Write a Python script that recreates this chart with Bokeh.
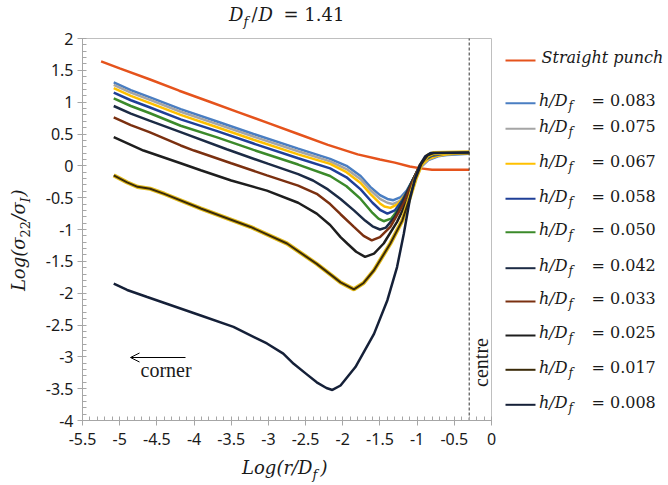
import math
from bokeh.plotting import figure
from bokeh.models import (Range1d, SingleIntervalTicker, CustomJSTickFormatter, LinearAxis,
                          Arrow, OpenHead)
from bokeh.core.properties import value
from bokeh.embed import file_html
from bokeh.resources import INLINE

# ---------------- data ----------------
series_labels = ["Straight punch", "0.083", "0.075", "0.067", "0.058", "0.050",
                 "0.042", "0.033", "0.025", "0.017", "0.008"]

straight_x = [-5.25, -5.0, -4.6, -4.2, -3.8, -3.4, -3.0, -2.6, -2.2, -1.8, -1.5, -1.3, -1.1, -0.95, -0.8, -0.6, -0.3]
straight_y = [1.64, 1.53, 1.36, 1.18, 1.01, 0.84, 0.67, 0.5, 0.33, 0.18, 0.1, 0.05, -0.01, -0.04, -0.06, -0.06, -0.06]

h083_x = [-5.08, -4.85, -4.6, -4.18, -3.7, -3.2, -2.6, -2.17, -1.95, -1.76, -1.63, -1.5, -1.4, -1.32, -1.22, -1.14, -1.05, -0.96, -0.85, -0.72, -0.6, -0.3]
h083_y = [1.31, 1.19, 1.08, 0.89, 0.70, 0.50, 0.27, 0.11, 0.0, -0.16, -0.33, -0.46, -0.52, -0.54, -0.49, -0.39, -0.2, -0.03, 0.09, 0.15, 0.17, 0.19]

h075_x = [-5.08, -4.85, -4.6, -4.18, -3.7, -3.2, -2.6, -2.17, -1.95, -1.76, -1.63, -1.5, -1.4, -1.33, -1.23, -1.14, -1.05, -0.96, -0.85, -0.72, -0.6, -0.3]
h075_y = [1.27, 1.15, 1.04, 0.85, 0.66, 0.46, 0.23, 0.07, -0.05, -0.21, -0.38, -0.52, -0.58, -0.60, -0.55, -0.42, -0.21, -0.02, 0.10, 0.16, 0.18, 0.20]

h067_x = [-5.08, -4.85, -4.6, -4.18, -3.7, -3.2, -2.6, -2.17, -1.95, -1.76, -1.63, -1.5, -1.44, -1.36, -1.26, -1.15, -1.05, -0.96, -0.85, -0.72, -0.6, -0.3]
h067_y = [1.22, 1.10, 0.99, 0.80, 0.61, 0.41, 0.18, 0.03, -0.10, -0.27, -0.44, -0.59, -0.64, -0.66, -0.60, -0.44, -0.21, -0.01, 0.11, 0.16, 0.18, 0.20]

h058_x = [-5.08, -4.85, -4.6, -4.18, -3.7, -3.2, -2.6, -2.17, -1.95, -1.76, -1.6, -1.5, -1.4, -1.3, -1.2, -1.1, -1.0, -0.9, -0.8, -0.65, -0.3]
h058_y = [1.15, 1.03, 0.92, 0.73, 0.55, 0.35, 0.12, -0.04, -0.18, -0.37, -0.58, -0.69, -0.75, -0.70, -0.54, -0.32, -0.08, 0.09, 0.16, 0.19, 0.20]

h050_x = [-5.08, -4.85, -4.6, -4.18, -3.7, -3.2, -2.6, -2.17, -1.95, -1.76, -1.6, -1.52, -1.45, -1.35, -1.25, -1.15, -1.05, -0.97, -0.88, -0.78, -0.65, -0.3]
h050_y = [1.06, 0.94, 0.83, 0.63, 0.45, 0.25, 0.02, -0.16, -0.32, -0.52, -0.74, -0.83, -0.87, -0.83, -0.68, -0.45, -0.2, -0.02, 0.12, 0.18, 0.20, 0.20]

h042_x = [-5.08, -4.85, -4.6, -4.18, -3.56, -3.0, -2.6, -2.4, -2.2, -2.03, -1.85, -1.7, -1.6, -1.5, -1.42, -1.3, -1.17, -1.05, -0.96, -0.87, -0.76, -0.3]
h042_y = [0.94, 0.82, 0.71, 0.53, 0.26, 0.03, -0.13, -0.23, -0.37, -0.52, -0.70, -0.86, -0.95, -1.0, -0.97, -0.8, -0.5, -0.2, 0.0, 0.14, 0.19, 0.20]

h033_x = [-5.08, -4.85, -4.6, -4.18, -4.0, -3.5, -3.02, -2.6, -2.35, -2.17, -2.03, -1.85, -1.72, -1.61, -1.5, -1.36, -1.18, -1.06, -0.97, -0.88, -0.78, -0.3]
h033_y = [0.76, 0.64, 0.53, 0.32, 0.24, 0.04, -0.15, -0.31, -0.44, -0.6, -0.76, -0.96, -1.1, -1.17, -1.12, -0.96, -0.59, -0.25, 0.0, 0.14, 0.19, 0.20]

h025_x = [-5.08, -4.85, -4.68, -4.18, -3.91, -3.5, -3.02, -2.6, -2.35, -2.17, -2.03, -1.94, -1.82, -1.7, -1.58, -1.45, -1.27, -1.13, -1.03, -0.95, -0.87, -0.78, -0.3]
h025_y = [0.45, 0.33, 0.24, 0.04, -0.07, -0.23, -0.39, -0.58, -0.75, -0.93, -1.12, -1.22, -1.35, -1.43, -1.38, -1.22, -0.88, -0.54, -0.2, 0.02, 0.15, 0.20, 0.21]

h017_x = [-5.08, -4.9, -4.76, -4.59, -4.4, -3.91, -3.24, -2.75, -2.35, -2.15, -2.03, -1.85, -1.72, -1.58, -1.36, -1.2, -1.11, -1.02, -0.94, -0.86, -0.78, -0.3]
h017_y = [-0.15, -0.26, -0.33, -0.36, -0.44, -0.67, -0.96, -1.22, -1.54, -1.72, -1.83, -1.94, -1.84, -1.64, -1.22, -0.86, -0.54, -0.2, 0.03, 0.16, 0.20, 0.21]

h008_x = [-5.08, -4.9, -4.63, -3.91, -3.47, -3.02, -2.8, -2.66, -2.5, -2.35, -2.22, -2.14, -2.03, -1.83, -1.58, -1.4, -1.27, -1.18, -1.1, -1.03, -0.96, -0.89, -0.82, -0.3]
h008_y = [-1.85, -1.95, -2.06, -2.35, -2.53, -2.79, -2.95, -3.11, -3.26, -3.40, -3.49, -3.52, -3.45, -3.16, -2.64, -2.11, -1.59, -1.07, -0.54, -0.2, 0.02, 0.15, 0.20, 0.21]

tick_interval = 0.5
centre_x = -0.3
X0, X1, Y0, Y1 = -5.5, 0.0, -4.0, 2.0     # axis extents

# ---------------- styles ----------------
colors = ["#E5531C", "#4A7EC2", "#A5A5A5", "#FFC000", "#1F3F97", "#3B8A2A",
          "#1C2B45", "#7B3010", "#1E1E1E", "#3A2A08", "#152038"]
halo = {9: "#E2BB1E"}

xs = [straight_x, h083_x, h075_x, h067_x, h058_x, h050_x, h042_x, h033_x, h025_x, h017_x, h008_x]
ys = [straight_y, h083_y, h075_y, h067_y, h058_y, h050_y, h042_y, h033_y, h025_y, h017_y, h008_y]

SERIF = "DejaVu Serif"
TIMES = "Liberation Serif"
SANS = "Noto Sans"
AX = "#A6A6A6"
TXT = "#1a1a1a"

W, H = 668, 485
FL, FR, FT, FB = 82, 491, 38, 420           # where the axes box sits on the page (px)
BASE_FIX = 0.42                              # baseline correction (fraction of font size)


def xd(px):
    return X0 + (px - FL) * (X1 - X0) / (FR - FL)


def yd(py):
    return Y1 - (py - FT) * (Y1 - Y0) / (FB - FT)


p = figure(width=W, height=H, x_range=Range1d(xd(0), xd(W)), y_range=Range1d(yd(H), yd(0)),
           output_backend="svg", toolbar_location=None, title=None, min_border=0,
           x_axis_type=None, y_axis_type=None)
p.background_fill_color = "white"
p.border_fill_color = "white"
p.outline_line_color = None
p.grid.visible = False

fmt = CustomJSTickFormatter(code="return String(Math.round(tick*10)/10);")
xaxis = LinearAxis(fixed_location=Y0, bounds=(X0, X1))
yaxis = LinearAxis(fixed_location=X0, bounds=(Y0, Y1))
for ax in (xaxis, yaxis):
    ax.ticker = SingleIntervalTicker(interval=tick_interval, num_minor_ticks=5)
    ax.formatter = fmt
    ax.axis_line_color = AX
    ax.major_tick_line_color = AX
    ax.minor_tick_line_color = AX
    ax.major_tick_in = 2
    ax.major_tick_out = 5
    ax.minor_tick_in = 4
    ax.minor_tick_out = 0
    ax.major_label_text_font = SANS
    ax.major_label_text_font_size = "16px"
    ax.major_label_text_color = TXT
yaxis.major_label_standoff = 4
xaxis.major_label_standoff = 7
p.add_layout(xaxis, "below")
p.add_layout(yaxis, "left")

# box edges (top and right) of the axes area
p.segment(x0=[X0, X1], y0=[Y1, Y0], x1=[X1, X1], y1=[Y1, Y1], line_color="#BFBFBF", line_width=1)

for i in range(len(xs)):
    if i in halo:
        p.line(xs[i], ys[i], line_color=halo[i], line_width=4.2)
    p.line(xs[i], ys[i], line_color=colors[i], line_width=2.5 if i not in halo else 2.0)

p.line([centre_x, centre_x], [Y0, Y1], line_color="#333333", line_width=1, line_dash="3 2")

A = math.pi / 2


def txt(px, py, s, size, italic=True, align="left", angle=0.0, font=SERIF):
    """Place a text with its alphabetic baseline at page pixel (px, py)."""
    fix = BASE_FIX * size
    if angle:
        x, y = xd(px - fix), yd(py)
    else:
        x, y = xd(px), yd(py - fix)
    p.text(x=[x], y=[y], text=[s], text_font=value(font), text_font_size=f"{size}px",
           text_font_style="italic" if italic else "normal", text_align=align,
           text_baseline="alphabetic", angle=angle, text_color=TXT)


p.add_layout(Arrow(end=OpenHead(size=9, line_width=1, line_color="black"),
                   x_start=xd(185), y_start=yd(357), x_end=xd(130), y_end=yd(357),
                   line_width=1, line_color="black"))
txt(140, 378, "corner", 20, italic=False, font=TIMES)
txt(489, 362, "centre", 20, italic=False, font=TIMES, align="center", angle=A)

# title  D_f /D = 1.41
txt(243, 22, "D", 18, align="right")
txt(243, 26, "f", 13)
txt(251, 22, "/", 18, italic=False)
txt(258, 22, "D", 18)
txt(283, 22, "= 1.41", 18, italic=False)

# x label  Log(r/D_f)
txt(312, 475, "Log(r/D", 18, align="right")
txt(312, 479, "f", 13)
txt(320, 475, ")", 18)

# y label  Log(σ22/σI)
txt(26, 237, "Log(σ", 18, align="right", angle=A)
txt(30, 237, "22", 13, italic=False, angle=A)
txt(26, 220, "/σ", 18, angle=A)
txt(30, 202, "I", 13, angle=A)
txt(26, 196, ")", 18, angle=A)

# legend (right of the axes box)
legend_py = [60, 102.7, 128.3, 163.3, 198.3, 231.7, 267.7, 301, 335, 369.3, 404.3]
ly = [yd(v) for v in legend_py]
p.segment(x0=[xd(505)] * len(ly), y0=ly, x1=[xd(535)] * len(ly), y1=ly,
          line_color=colors, line_width=2)
txt(541, legend_py[0] + 4, series_labels[0], 16)
for k in range(1, len(ly)):
    txt(567, legend_py[k] + 4, "h/D", 16, align="right")
    txt(568, legend_py[k] + 8, "f", 12)
    txt(591, legend_py[k] + 4, "= " + series_labels[k], 16, italic=False)

open("out.html", "w").write(file_html(p, INLINE))
